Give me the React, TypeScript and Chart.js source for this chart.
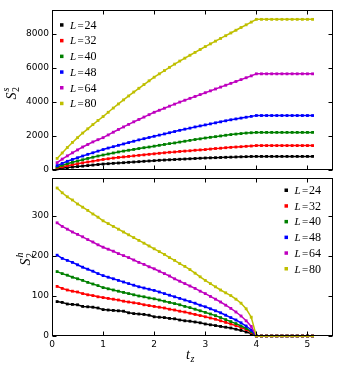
import React, { useEffect, useRef } from "react";
import { Chart, registerables } from "chart.js";
Chart.register(...registerables);

// t_z values
const TZ = [
  0.1, 0.2, 0.3, 0.4, 0.5, 0.6, 0.7, 0.8, 0.9, 1.0,
  1.1, 1.2, 1.3, 1.4, 1.5, 1.6, 1.7, 1.8, 1.9, 2.0,
  2.1, 2.2, 2.3, 2.4, 2.5, 2.6, 2.7, 2.8, 2.9, 3.0,
  3.1, 3.2, 3.3, 3.4, 3.5, 3.6, 3.7, 3.8, 3.9, 4.0,
  4.1, 4.2, 4.3, 4.4, 4.5, 4.6, 4.7, 4.8, 4.9, 5.0, 5.1,
];

const SIZE_LABELS = ["24", "32", "40", "48", "64", "80"];
const COLORS = ["#000000", "#ff0000", "#008000", "#0000ff", "#bf00bf", "#bfbf00"];

// Top panel: S_2^s
const SS_24 = [60, 100, 140, 170, 200, 230, 260, 290, 320, 350, 370, 390, 410, 430, 450, 470, 490, 510, 530, 550, 570, 585, 600, 615, 630, 645, 660, 675, 690, 705, 715, 725, 735, 745, 755, 765, 775, 785, 795, 800, 800, 800, 800, 800, 800, 800, 800, 800, 800, 800, 800];
const SS_32 = [120, 190, 250, 310, 370, 420, 470, 520, 570, 620, 660, 700, 740, 770, 800, 830, 860, 890, 920, 950, 980, 1010, 1040, 1060, 1090, 1110, 1130, 1160, 1180, 1200, 1230, 1260, 1280, 1310, 1330, 1350, 1370, 1390, 1410, 1435, 1435, 1435, 1435, 1435, 1435, 1435, 1435, 1435, 1435, 1435, 1435];
const SS_40 = [180, 280, 370, 450, 530, 600, 680, 750, 820, 880, 940, 1000, 1060, 1110, 1160, 1210, 1260, 1310, 1350, 1400, 1450, 1500, 1550, 1590, 1640, 1690, 1740, 1790, 1830, 1880, 1920, 1960, 2000, 2040, 2080, 2110, 2140, 2170, 2190, 2210, 2210, 2210, 2210, 2210, 2210, 2210, 2210, 2210, 2210, 2210, 2210];
const SS_48 = [260, 390, 510, 620, 720, 820, 920, 1010, 1110, 1200, 1290, 1370, 1450, 1530, 1610, 1690, 1770, 1840, 1910, 1980, 2050, 2120, 2190, 2260, 2330, 2400, 2460, 2530, 2590, 2650, 2710, 2770, 2830, 2890, 2950, 3000, 3050, 3100, 3150, 3200, 3200, 3200, 3200, 3200, 3200, 3200, 3200, 3200, 3200, 3200, 3200];
const SS_64 = [430, 640, 830, 1010, 1180, 1350, 1500, 1650, 1780, 1900, 2060, 2220, 2380, 2530, 2680, 2830, 2970, 3110, 3250, 3390, 3510, 3630, 3750, 3870, 3990, 4100, 4210, 4320, 4430, 4540, 4650, 4760, 4870, 4980, 5090, 5200, 5310, 5420, 5530, 5650, 5650, 5650, 5650, 5650, 5650, 5650, 5650, 5650, 5650, 5650, 5650];
const SS_80 = [680, 1000, 1320, 1620, 1900, 2170, 2420, 2670, 2910, 3140, 3390, 3640, 3880, 4120, 4350, 4580, 4800, 5020, 5240, 5450, 5650, 5840, 6030, 6220, 6400, 6570, 6740, 6910, 7080, 7250, 7410, 7570, 7730, 7890, 8050, 8210, 8370, 8530, 8690, 8850, 8850, 8850, 8850, 8850, 8850, 8850, 8850, 8850, 8850, 8850, 8850];

// Bottom panel: S_2^h
const SH_24 = [86, 84, 80, 79, 78, 74, 73, 72, 70, 66, 65, 64, 63, 62, 58, 56, 55, 54, 52, 48, 47, 46, 44, 43, 40, 38, 37, 35, 33, 30, 28, 26, 24, 22, 20, 17, 14, 10, 6, 0, 0, 0, 0, 0, 0, 0, 0, 0, 0, 0, 0];
const SH_32 = [124, 119, 115, 112, 110, 106, 103, 101, 98, 96, 94, 92, 90, 87, 85, 83, 81, 78, 76, 74, 72, 70, 67, 65, 62, 60, 57, 54, 51, 48, 45, 42, 38, 34, 30, 26, 21, 16, 9, 0, 0, 0, 0, 0, 0, 0, 0, 0, 0, 0, 0];
const SH_40 = [161, 156, 152, 147, 143, 139, 134, 130, 126, 121, 118, 115, 112, 109, 106, 103, 100, 98, 95, 93, 90, 87, 84, 81, 78, 74, 71, 67, 63, 59, 55, 51, 46, 41, 36, 31, 25, 19, 11, 0, 0, 0, 0, 0, 0, 0, 0, 0, 0, 0, 0];
const SH_48 = [202, 194, 189, 184, 178, 172, 167, 162, 156, 151, 147, 143, 139, 135, 131, 127, 123, 120, 117, 114, 110, 106, 102, 98, 94, 90, 86, 82, 77, 73, 68, 63, 58, 52, 46, 40, 33, 25, 15, 0, 0, 0, 0, 0, 0, 0, 0, 0, 0, 0, 0];
const SH_64 = [283, 274, 267, 260, 254, 248, 241, 235, 228, 222, 217, 212, 206, 201, 196, 190, 184, 179, 173, 168, 162, 156, 150, 143, 137, 131, 125, 119, 112, 106, 99, 92, 85, 77, 69, 60, 50, 38, 24, 0, 0, 0, 0, 0, 0, 0, 0, 0, 0, 0, 0];
const SH_80 = [370, 358, 348, 340, 330, 322, 314, 305, 297, 288, 281, 274, 267, 260, 253, 246, 239, 232, 225, 218, 211, 204, 196, 189, 181, 174, 166, 157, 148, 139, 131, 123, 115, 108, 101, 92, 82, 68, 47, 0, 0, 0, 0, 0, 0, 0, 0, 0, 0, 0, 0];

const X_TICKS = [0, 1, 2, 3, 4, 5];
const TOP_Y_TICKS = [0, 2000, 4000, 6000, 8000];
const BOT_Y_TICKS = [0, 100, 200, 300];

const TICK_FONT = { family: "'DejaVu Sans', sans-serif", size: 9 };
const SERIF = "'Liberation Serif', 'DejaVu Serif', serif";

function drawYTitle(ctx: CanvasRenderingContext2D, bx: number, cy: number, sup: string) {
  ctx.save();
  ctx.translate(bx, cy);
  ctx.rotate(-Math.PI / 2);
  ctx.fillStyle = "#000";
  ctx.textBaseline = "alphabetic";
  ctx.textAlign = "left";
  ctx.font = `italic 14px ${SERIF}`;
  const wS = ctx.measureText("S").width;
  ctx.font = `10px ${SERIF}`;
  const w2 = ctx.measureText("2").width;
  const x0 = -(wS + w2 + 1) / 2;
  ctx.font = `italic 14px ${SERIF}`;
  ctx.fillText("S", x0, 0);
  ctx.font = `10px ${SERIF}`;
  ctx.fillText("2", x0 + wS + 0.5, 3);
  ctx.font = `italic 10px ${SERIF}`;
  ctx.fillText(sup, x0 + wS + 1, -7);
  ctx.restore();
}

const mplPlugin = {
  id: "mpl",
  afterDraw(chart: any, _args: any, opts: any) {
    const { ctx, chartArea: a } = chart;
    const xs = chart.scales.x;
    const ys = chart.scales.y;
    ctx.save();
    ctx.strokeStyle = "#000";
    ctx.lineWidth = 1;
    const L = Math.round(a.left) + 0.5;
    const R = Math.round(a.right) - 0.5;
    const T = Math.round(a.top) + 0.5;
    const B = Math.round(a.bottom) - 0.5;
    ctx.strokeRect(L, T, R - L, B - T);
    ctx.beginPath();
    for (const v of X_TICKS) {
      const p = Math.round(xs.getPixelForValue(v)) + 0.5;
      ctx.moveTo(p, B);
      ctx.lineTo(p, B - 4);
      ctx.moveTo(p, T);
      ctx.lineTo(p, T + 4);
    }
    for (const v of opts.yTicks) {
      const p = Math.round(ys.getPixelForValue(v)) + 0.5;
      ctx.moveTo(L, p);
      ctx.lineTo(L + 4, p);
      ctx.moveTo(R, p);
      ctx.lineTo(R - 4, p);
    }
    ctx.stroke();

    // legend
    chart.data.datasets.forEach((ds: any, i: number) => {
      const y = opts.legendY + i * 15.7;
      const x = opts.legendX;
      ctx.fillStyle = ds.borderColor;
      ctx.fillRect(x - 1.5, y - 1.5, 3.5, 3.5);
      ctx.fillStyle = "#000";
      ctx.textBaseline = "alphabetic";
      ctx.textAlign = "left";
      ctx.font = `italic 11px ${SERIF}`;
      ctx.fillText("L", x + 8.5, y + 4);
      ctx.font = `11px ${SERIF}`;
      ctx.fillText("=", x + 16, y + 4);
      ctx.font = `12px ${SERIF}`;
      ctx.fillText(SIZE_LABELS[i], x + 23, y + 4);
    });

    drawYTitle(ctx, opts.yTitleX, opts.yTitleY, opts.sup);

    if (opts.xTitle) {
      ctx.fillStyle = "#000";
      ctx.textBaseline = "alphabetic";
      ctx.textAlign = "left";
      ctx.font = `italic 14px ${SERIF}`;
      ctx.fillText("t", 186, opts.xTitleY);
      ctx.font = `italic 10px ${SERIF}`;
      ctx.fillText("z", 190.5, opts.xTitleY + 3);
    }
    ctx.restore();
  },
};

function makeDatasets(series: number[][]) {
  return series.map((vals, i) => ({
    label: "L=" + SIZE_LABELS[i],
    data: TZ.map((t, j) => ({ x: t, y: vals[j] })),
    borderColor: COLORS[i],
    backgroundColor: COLORS[i],
    borderWidth: 1.5,
    pointStyle: "rect",
    pointRadius: 2,
    pointBorderWidth: 0,
    showLine: true,
    clip: false,
    order: 6 - i,
  }));
}

function makeConfig(opts: {
  series: number[][];
  yMax: number;
  yTicks: number[];
  showX: boolean;
  padding: any;
  plugin: any;
}) {
  return {
    type: "scatter" as const,
    data: { datasets: makeDatasets(opts.series) },
    options: {
      animation: false,
      responsive: false,
      devicePixelRatio: 1,
      layout: { padding: opts.padding },
      plugins: {
        legend: { display: false },
        tooltip: { enabled: false },
        mpl: opts.plugin,
      },
      scales: {
        x: {
          type: "linear",
          min: 0,
          max: 5.5,
          display: opts.showX,
          afterBuildTicks: (s: any) => {
            s.ticks = X_TICKS.map((v) => ({ value: v }));
          },
          afterFit: (s: any) => {
            s.height = opts.showX ? 22 : 0;
            s.paddingLeft = 0;
            s.paddingRight = 0;
          },
          grid: { display: false, drawTicks: false },
          border: { display: false },
          ticks: {
            font: TICK_FONT,
            color: "#000",
            padding: 3,
            maxRotation: 0,
            autoSkip: false,
            callback: (v: any) => String(v),
          },
        },
        y: {
          type: "linear",
          min: 0,
          max: opts.yMax,
          afterBuildTicks: (s: any) => {
            s.ticks = opts.yTicks.map((v) => ({ value: v }));
          },
          afterFit: (s: any) => {
            s.width = 52;
            s.paddingTop = 0;
            s.paddingBottom = 0;
          },
          grid: { display: false, drawTicks: false },
          border: { display: false },
          ticks: {
            font: TICK_FONT,
            color: "#000",
            padding: 3,
            autoSkip: false,
            callback: (v: any) => String(v),
          },
        },
      },
    },
    plugins: [mplPlugin],
  };
}

export default function App() {
  const topRef = useRef<HTMLCanvasElement>(null);
  const botRef = useRef<HTMLCanvasElement>(null);

  useEffect(() => {
    const top = new Chart(
      topRef.current as HTMLCanvasElement,
      makeConfig({
        series: [SS_24, SS_32, SS_40, SS_48, SS_64, SS_80],
        yMax: 9400,
        yTicks: TOP_Y_TICKS,
        showX: false,
        padding: { left: 0, right: 11, top: 10, bottom: 2 },
        plugin: { yTicks: TOP_Y_TICKS, legendX: 61.5, legendY: 24.7, yTitleX: 16, yTitleY: 93, sup: "s", xTitle: false },
      }) as any
    );
    const bot = new Chart(
      botRef.current as HTMLCanvasElement,
      makeConfig({
        series: [SH_24, SH_32, SH_40, SH_48, SH_64, SH_80],
        yMax: 395,
        yTicks: BOT_Y_TICKS,
        showX: true,
        padding: { left: 0, right: 11, top: 3, bottom: 8 },
        plugin: { yTicks: BOT_Y_TICKS, legendX: 286, legendY: 16, yTitleX: 29.5, yTitleY: 85, sup: "h", xTitle: true, xTitleY: 185 },
      }) as any
    );
    return () => {
      top.destroy();
      bot.destroy();
    };
  }, []);

  return (
    <div style={{ position: "absolute", left: 0, top: 0, width: 344, height: 366, background: "#fff" }}>
      <canvas ref={topRef} width={344} height={174} style={{ position: "absolute", left: 0, top: 0, width: 344, height: 174 }} />
      <canvas ref={botRef} width={344} height={192} style={{ position: "absolute", left: 0, top: 174, width: 344, height: 192 }} />
    </div>
  );
}
